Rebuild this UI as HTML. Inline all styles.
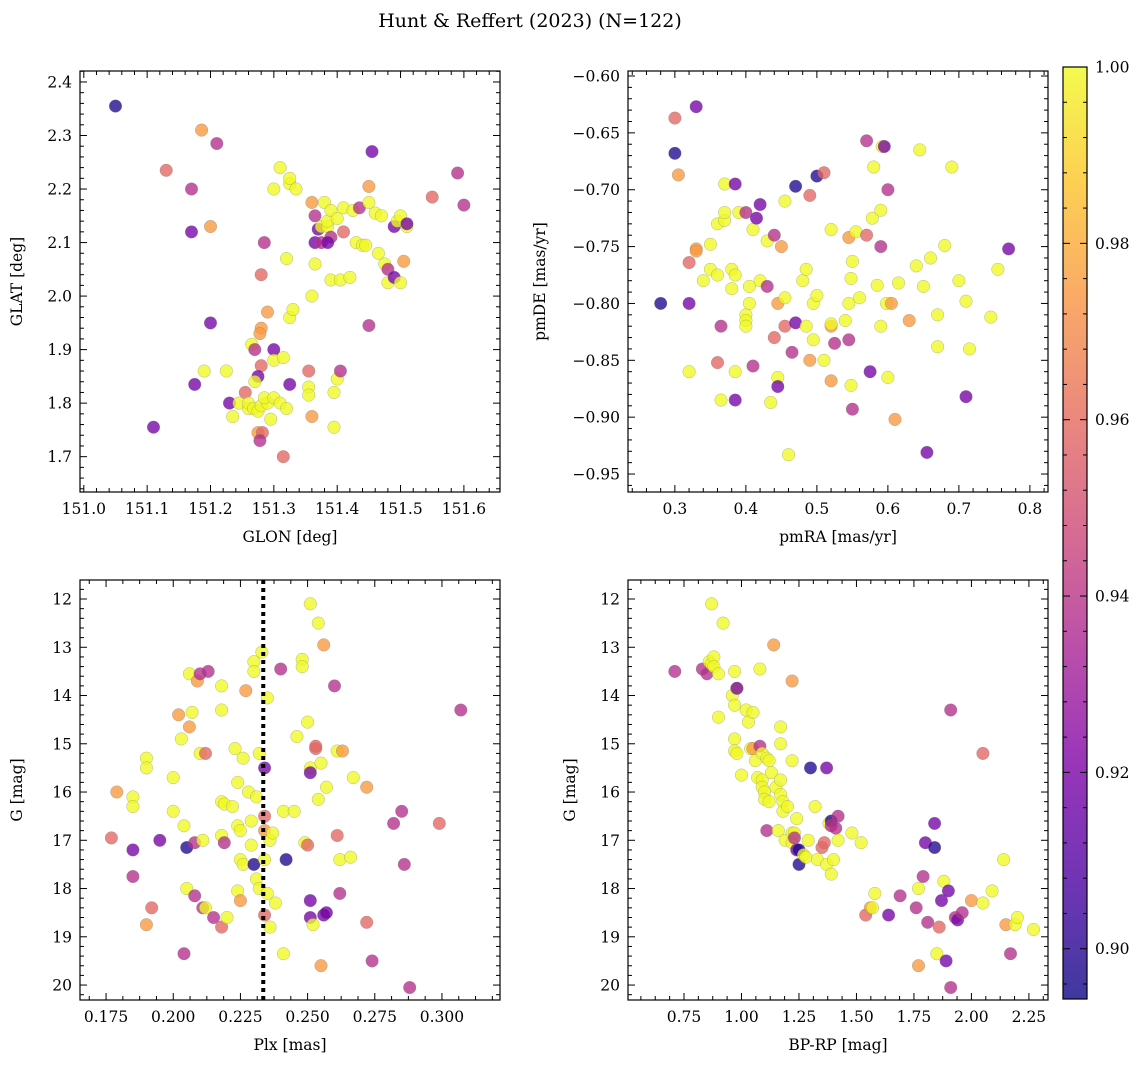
<!DOCTYPE html>
<html><head><meta charset="utf-8"><style>
html,body{margin:0;padding:0;background:#fff;}
svg{display:block;font-family:"DejaVu Serif","Liberation Serif",serif;}
</style></head><body>
<svg id="fig" width="1148" height="1067" viewBox="0 0 1148 1067">
<defs>
<linearGradient id="plasma" x1="0" y1="1" x2="0" y2="0">
<stop offset="0" stop-color="#0d0887"/><stop offset="0.125" stop-color="#4c02a1"/><stop offset="0.25" stop-color="#7e03a8"/><stop offset="0.375" stop-color="#a92395"/><stop offset="0.5" stop-color="#cc4778"/><stop offset="0.625" stop-color="#e56b5d"/><stop offset="0.75" stop-color="#f89441"/><stop offset="0.875" stop-color="#fdc328"/><stop offset="1" stop-color="#f0f921"/>
</linearGradient>
</defs>
<text x="530" y="27" text-anchor="middle" font-size="19">Hunt &amp; Reffert (2023) (N=122)</text>
</svg>
<script>
const Y=1.0,O=0.975,R=0.958,M=0.938,P=0.918,B=0.898;
const p1=[[151.05,2.355,B],[151.186,2.31,O],[151.13,2.235,R],[151.21,2.285,M],[151.17,2.2,M],[151.2,2.13,O],[151.17,2.12,P],[151.2,1.95,P],[151.175,1.835,P],[151.11,1.755,P],[151.19,1.86,Y],[151.225,1.86,Y],[151.23,1.8,P],[151.235,1.775,Y],[151.245,1.8,Y],[151.255,1.82,R],[151.26,1.79,Y],[151.265,1.91,Y],[151.27,1.9,M],[151.28,2.04,R],[151.285,2.1,M],[151.28,1.94,O],[151.278,1.93,O],[151.28,1.87,R],[151.275,1.85,P],[151.27,1.84,Y],[151.26,1.8,Y],[151.268,1.79,Y],[151.275,1.785,Y],[151.28,1.795,Y],[151.29,1.8,Y],[151.285,1.81,Y],[151.275,1.745,O],[151.282,1.745,R],[151.278,1.73,M],[151.29,1.97,O],[151.3,1.9,P],[151.3,1.88,Y],[151.315,1.885,Y],[151.3,1.81,Y],[151.31,1.8,Y],[151.295,1.77,Y],[151.315,1.7,R],[151.31,2.24,Y],[151.3,2.2,Y],[151.325,2.21,Y],[151.325,2.22,Y],[151.335,2.2,Y],[151.32,2.07,Y],[151.325,1.96,Y],[151.33,1.975,Y],[151.32,1.79,Y],[151.325,1.835,P],[151.355,1.83,Y],[151.355,1.815,Y],[151.355,1.86,R],[151.36,1.775,O],[151.36,2.175,O],[151.365,2.15,M],[151.365,2.06,Y],[151.365,2.1,P],[151.36,2.0,Y],[151.37,2.125,P],[151.375,2.1,M],[151.375,2.13,Y],[151.38,2.175,Y],[151.385,2.13,Y],[151.385,2.14,Y],[151.39,2.16,Y],[151.39,2.11,M],[151.385,2.1,P],[151.39,2.03,Y],[151.395,1.82,Y],[151.395,1.755,Y],[151.4,1.845,Y],[151.405,1.86,M],[151.405,2.03,Y],[151.4,2.145,Y],[151.41,2.12,R],[151.41,2.165,Y],[151.42,2.035,Y],[151.425,2.16,Y],[151.43,2.1,Y],[151.435,2.165,M],[151.44,2.095,Y],[151.445,2.095,Y],[151.45,2.175,Y],[151.45,2.205,O],[151.455,2.27,P],[151.45,1.945,M],[151.46,2.155,Y],[151.465,2.08,Y],[151.47,2.15,Y],[151.475,2.06,Y],[151.48,2.05,M],[151.48,2.025,Y],[151.49,2.13,P],[151.49,2.035,P],[151.495,2.14,Y],[151.5,2.025,Y],[151.5,2.15,Y],[151.505,2.065,O],[151.51,2.13,Y],[151.51,2.135,P],[151.55,2.185,R],[151.59,2.23,M],[151.6,2.17,M]];
const p2=[[0.33,-0.627,P],[0.3,-0.637,R],[0.3,-0.668,B],[0.305,-0.687,O],[0.28,-0.8,B],[0.32,-0.764,R],[0.32,-0.8,P],[0.32,-0.86,Y],[0.33,-0.752,O],[0.33,-0.754,O],[0.34,-0.78,Y],[0.35,-0.748,Y],[0.35,-0.77,Y],[0.36,-0.775,Y],[0.36,-0.73,Y],[0.36,-0.852,R],[0.365,-0.82,M],[0.365,-0.885,Y],[0.37,-0.695,Y],[0.37,-0.727,Y],[0.37,-0.72,Y],[0.38,-0.787,Y],[0.38,-0.77,Y],[0.385,-0.695,P],[0.385,-0.775,Y],[0.385,-0.86,Y],[0.385,-0.885,P],[0.39,-0.72,Y],[0.4,-0.72,M],[0.4,-0.81,Y],[0.4,-0.815,Y],[0.4,-0.82,Y],[0.405,-0.8,Y],[0.405,-0.785,Y],[0.41,-0.735,Y],[0.41,-0.855,M],[0.415,-0.725,P],[0.42,-0.713,P],[0.42,-0.78,Y],[0.43,-0.745,Y],[0.43,-0.785,M],[0.435,-0.887,Y],[0.44,-0.74,M],[0.44,-0.83,R],[0.445,-0.8,O],[0.445,-0.865,Y],[0.445,-0.873,P],[0.45,-0.75,O],[0.455,-0.71,Y],[0.455,-0.795,Y],[0.455,-0.82,R],[0.46,-0.933,Y],[0.465,-0.843,M],[0.47,-0.817,P],[0.47,-0.697,B],[0.48,-0.78,Y],[0.485,-0.77,Y],[0.485,-0.82,Y],[0.49,-0.705,R],[0.49,-0.85,O],[0.495,-0.8,Y],[0.495,-0.832,Y],[0.5,-0.688,B],[0.5,-0.793,Y],[0.51,-0.685,R],[0.51,-0.85,Y],[0.52,-0.735,Y],[0.52,-0.82,O],[0.52,-0.818,Y],[0.52,-0.868,O],[0.525,-0.835,M],[0.54,-0.815,Y],[0.545,-0.832,M],[0.545,-0.742,O],[0.545,-0.8,Y],[0.548,-0.872,Y],[0.55,-0.893,M],[0.55,-0.763,Y],[0.548,-0.778,Y],[0.555,-0.737,Y],[0.56,-0.795,Y],[0.57,-0.657,M],[0.57,-0.74,R],[0.575,-0.86,P],[0.578,-0.725,Y],[0.58,-0.68,Y],[0.585,-0.784,Y],[0.59,-0.82,Y],[0.59,-0.75,M],[0.59,-0.718,Y],[0.592,-0.662,Y],[0.595,-0.662,P],[0.598,-0.8,Y],[0.6,-0.7,M],[0.6,-0.865,Y],[0.605,-0.8,O],[0.61,-0.902,O],[0.615,-0.782,Y],[0.63,-0.815,O],[0.64,-0.767,Y],[0.645,-0.665,Y],[0.65,-0.785,Y],[0.655,-0.931,P],[0.66,-0.76,Y],[0.67,-0.81,Y],[0.67,-0.838,Y],[0.68,-0.749,Y],[0.69,-0.68,Y],[0.7,-0.78,Y],[0.71,-0.798,Y],[0.71,-0.882,P],[0.715,-0.84,Y],[0.745,-0.812,Y],[0.755,-0.77,Y],[0.77,-0.752,P]];
const p3=[[0.177,16.95,R],[0.179,16.0,O],[0.19,15.3,Y],[0.19,15.5,Y],[0.185,16.1,Y],[0.185,16.3,Y],[0.185,17.2,P],[0.185,17.75,M],[0.19,18.75,O],[0.192,18.4,R],[0.195,17.0,P],[0.2,15.7,Y],[0.2,16.4,Y],[0.202,14.4,O],[0.203,14.9,Y],[0.204,16.7,Y],[0.205,17.15,B],[0.204,19.35,M],[0.205,18.0,Y],[0.206,13.55,Y],[0.206,14.65,O],[0.207,14.35,Y],[0.208,18.15,M],[0.208,17.05,M],[0.209,13.7,O],[0.21,13.55,M],[0.21,15.2,Y],[0.211,17.0,Y],[0.211,18.4,M],[0.212,15.2,R],[0.212,18.4,Y],[0.213,13.5,M],[0.215,18.6,M],[0.218,13.8,Y],[0.218,14.3,Y],[0.218,16.2,Y],[0.219,16.25,Y],[0.218,16.9,Y],[0.219,17.05,M],[0.218,18.8,R],[0.22,18.6,Y],[0.222,16.3,Y],[0.223,15.1,Y],[0.224,15.8,Y],[0.224,16.7,Y],[0.225,16.8,Y],[0.224,18.05,Y],[0.225,18.25,O],[0.225,17.4,Y],[0.226,17.5,Y],[0.226,15.3,Y],[0.227,13.9,O],[0.228,16.0,Y],[0.229,16.6,Y],[0.229,17.1,Y],[0.23,13.3,Y],[0.23,13.5,Y],[0.23,17.5,B],[0.231,16.1,Y],[0.231,17.8,Y],[0.232,18.0,Y],[0.232,15.2,Y],[0.233,13.1,Y],[0.234,15.5,P],[0.234,16.5,R],[0.235,14.05,Y],[0.234,16.8,O],[0.236,17.0,Y],[0.234,17.4,Y],[0.235,18.1,Y],[0.234,18.55,R],[0.236,18.8,Y],[0.237,16.85,Y],[0.238,18.3,Y],[0.24,13.45,M],[0.241,16.4,Y],[0.241,19.35,Y],[0.242,17.4,B],[0.245,16.4,Y],[0.246,14.85,Y],[0.248,13.25,Y],[0.248,13.4,Y],[0.25,14.55,Y],[0.249,17.05,Y],[0.25,17.1,R],[0.251,12.1,Y],[0.251,15.5,Y],[0.251,15.6,P],[0.251,18.25,P],[0.251,18.6,P],[0.252,18.75,Y],[0.253,15.1,R],[0.253,15.05,R],[0.254,16.15,Y],[0.254,12.5,Y],[0.255,15.4,Y],[0.255,19.6,O],[0.256,18.55,P],[0.256,12.95,O],[0.257,15.9,Y],[0.257,18.5,P],[0.26,13.8,M],[0.261,16.9,R],[0.261,15.15,Y],[0.262,17.4,Y],[0.262,18.1,M],[0.263,15.15,O],[0.266,17.35,Y],[0.267,15.7,Y],[0.272,18.7,R],[0.272,15.9,O],[0.274,19.5,M],[0.282,16.65,M],[0.285,16.4,M],[0.286,17.5,M],[0.288,20.05,M],[0.299,16.65,R],[0.307,14.3,M]];
const p4=[[0.71,13.5,M],[0.83,13.45,M],[0.85,13.55,M],[0.86,13.3,Y],[0.87,13.35,Y],[0.88,13.2,Y],[0.87,12.1,Y],[0.88,13.4,Y],[0.9,13.55,Y],[0.92,12.5,Y],[0.9,14.45,Y],[0.97,13.5,Y],[0.96,14.0,Y],[0.98,13.85,Y],[0.98,13.85,P],[0.97,14.2,Y],[0.97,14.9,Y],[0.97,15.15,Y],[0.98,15.2,Y],[1.0,15.65,Y],[1.02,14.3,Y],[1.03,14.55,Y],[1.05,14.35,Y],[1.04,15.1,Y],[1.05,15.1,O],[1.06,15.35,Y],[1.07,15.7,Y],[1.08,13.45,Y],[1.08,15.05,M],[1.09,15.2,Y],[1.09,15.75,Y],[1.09,15.9,Y],[1.1,16.0,Y],[1.1,16.15,Y],[1.11,16.8,M],[1.11,15.3,Y],[1.12,15.35,Y],[1.13,15.6,Y],[1.12,16.2,Y],[1.14,12.95,O],[1.15,15.9,Y],[1.16,16.8,Y],[1.17,14.65,Y],[1.17,15.0,Y],[1.17,15.75,Y],[1.17,16.05,Y],[1.18,16.2,Y],[1.18,16.4,Y],[1.19,17.0,Y],[1.2,16.3,Y],[1.22,13.7,O],[1.22,15.35,Y],[1.22,16.85,Y],[1.22,17.05,Y],[1.23,16.85,Y],[1.23,16.95,M],[1.24,17.2,P],[1.24,16.55,Y],[1.25,17.5,B],[1.25,17.2,B],[1.27,17.3,Y],[1.28,17.35,Y],[1.29,17.0,Y],[1.3,15.5,B],[1.32,16.3,Y],[1.33,17.4,Y],[1.35,17.15,R],[1.36,17.05,R],[1.37,15.5,P],[1.37,17.5,Y],[1.38,16.65,Y],[1.39,16.6,B],[1.39,16.7,M],[1.39,17.7,Y],[1.4,17.4,Y],[1.41,16.75,M],[1.42,16.5,M],[1.42,17.0,Y],[1.48,16.85,Y],[1.52,17.05,Y],[1.54,18.55,R],[1.56,18.4,O],[1.57,18.4,Y],[1.58,18.1,Y],[1.64,18.55,P],[1.69,18.15,M],[1.76,18.4,M],[1.77,18.0,Y],[1.77,19.6,O],[1.79,17.75,M],[1.8,17.05,P],[1.81,18.7,M],[1.84,17.15,B],[1.84,16.65,P],[1.85,19.35,Y],[1.86,18.8,R],[1.87,18.25,P],[1.88,17.85,Y],[1.89,19.5,P],[1.9,18.05,P],[1.91,14.3,M],[1.91,20.05,M],[1.93,18.6,M],[1.94,18.65,P],[1.96,18.5,M],[2.0,18.25,O],[2.05,18.3,Y],[2.05,15.2,R],[2.09,18.05,Y],[2.14,17.4,Y],[2.15,18.75,O],[2.17,19.35,M],[2.19,18.75,Y],[2.2,18.6,Y],[2.27,18.85,Y]];
const plxLine=0.2335;
const cbTicks=[0.90,0.92,0.94,0.96,0.98,1.00];

const NS='http://www.w3.org/2000/svg';
const svg=document.getElementById('fig');
function mk(tag,attrs,parent){const e=document.createElementNS(NS,tag);for(const k in attrs)e.setAttribute(k,attrs[k]);(parent||svg).appendChild(e);return e;}
const stops=[[0,[13,8,135]],[0.125,[76,2,161]],[0.25,[126,3,168]],[0.375,[169,35,149]],[0.5,[204,71,120]],[0.625,[229,107,93]],[0.75,[248,148,65]],[0.875,[253,195,40]],[1,[240,249,33]]];
const CMIN=0.8943,CMAX=1.0;
function cmap(v){let t=(v-CMIN)/(CMAX-CMIN);t=Math.max(0,Math.min(1,t));for(let i=1;i<stops.length;i++){if(t<=stops[i][0]){const a=stops[i-1],b=stops[i];const f=(t-a[0])/(b[0]-a[0]);const c=a[1].map((x,j)=>Math.round(x+(b[1][j]-x)*f));return `rgb(${c})`;}}return 'rgb(240,249,33)';}
function fmt(v,d){const s=Math.abs(v).toFixed(d);return (v<-1e-9?'\u2212':'')+s;}

function panel(cfg){
  const {L,T,W,H,xd,yd,xt,yt,xdec,ydec,xminor,yminor,data,xlab,ylab,name}=cfg;
  const g=mk('g',{});
  
  
  const sx=v=>L+(v-xd[0])/(xd[1]-xd[0])*W;
  const sy=v=>T+(yd[1]-v)/(yd[1]-yd[0])*H;
  const clip='c'+name;
  const cp=mk('clipPath',{id:clip},g);mk('rect',{x:L,y:T,width:W,height:H},cp);
  const pts=mk('g',{'clip-path':`url(#${clip})`},g);
  
  
  data.forEach(d=>{
    const c=mk('circle',{cx:sx(d[0]).toFixed(1),cy:sy(d[1]).toFixed(1),r:6.3,fill:cmap(d[2]),'fill-opacity':0.78,stroke:'#777','stroke-opacity':0.5,'stroke-width':0.5},pts);
    
    
  });
  if(cfg.vline!==undefined){
    const ln=mk('line',{x1:sx(cfg.vline),x2:sx(cfg.vline),y1:T,y2:T+H,stroke:'#000','stroke-width':4,'stroke-dasharray':'4,4'},g);
    
    
  }
  const fr=mk('rect',{x:L,y:T,width:W,height:H,fill:'none',stroke:'#000','stroke-width':1.2},g);
  
  
  const tk=mk('g',{stroke:'#000','stroke-width':1},g);
  const step=xt[1]-xt[0], ystep=yt[1]-yt[0];
  for(let i=-1;i<xt.length;i++){
    const base=i<0?xt[0]-step:xt[i];
    for(let k=0;k<xminor;k++){
      const v=base+k*step/xminor; if(v<xd[0]-1e-9||v>xd[1]+1e-9)continue;
      const x=sx(v),len=k===0?7:4;
      mk('line',{x1:x,x2:x,y1:T+H,y2:T+H-len},tk);mk('line',{x1:x,x2:x,y1:T,y2:T+len},tk);
    }
  }
  for(let i=-1;i<yt.length;i++){
    const base=i<0?yt[0]-ystep:yt[i];
    for(let k=0;k<yminor;k++){
      const v=base+k*ystep/yminor; if(v<Math.min(...yd)-1e-9||v>Math.max(...yd)+1e-9)continue;
      const y=sy(v),len=k===0?7:4;
      mk('line',{x1:L,x2:L+len,y1:y,y2:y},tk);mk('line',{x1:L+W,x2:L+W-len,y1:y,y2:y},tk);
    }
  }
  xt.forEach(v=>{const t=mk('text',{x:sx(v),y:T+H+22,'text-anchor':'middle','font-size':15.5},g);t.textContent=fmt(v,xdec);});
  yt.forEach(v=>{const t=mk('text',{x:L-8,y:sy(v)+5.5,'text-anchor':'end','font-size':15.5},g);t.textContent=fmt(v,ydec);});
  const xl=mk('text',{x:L+W/2,y:T+H+50,'text-anchor':'middle','font-size':15.5},g);xl.textContent=xlab;
  
  
  const yx=cfg.ylx,yl=mk('text',{x:yx,y:T+H/2,'text-anchor':'middle','font-size':15.5,transform:`rotate(-90 ${yx} ${T+H/2})`},g);yl.textContent=ylab;
  
  
}
panel({name:'glon-glat-panel',L:80,T:71,W:420,H:421,xd:[150.994,151.657],yd:[1.634,2.4205],xt:[151.0,151.1,151.2,151.3,151.4,151.5,151.6],yt:[1.7,1.8,1.9,2.0,2.1,2.2,2.3,2.4],xdec:1,ydec:1,xminor:5,yminor:5,data:p1,xlab:'GLON [deg]',ylab:'GLAT [deg]',ylx:22});
panel({name:'pm-panel',L:628,T:71,W:420,H:421,xd:[0.234,0.8255],yd:[-0.9658,-0.5956],xt:[0.3,0.4,0.5,0.6,0.7,0.8],yt:[-0.95,-0.9,-0.85,-0.8,-0.75,-0.7,-0.65,-0.6],xdec:1,ydec:2,xminor:5,yminor:5,data:p2,xlab:'pmRA [mas/yr]',ylab:'pmDE [mas/yr]',ylx:545});
panel({name:'plx-g-panel',L:80,T:580,W:420,H:420,xd:[0.1653,0.3216],yd:[20.31,11.606],xt:[0.175,0.2,0.225,0.25,0.275,0.3],yt:[12,13,14,15,16,17,18,19,20],xdec:3,ydec:0,xminor:4,yminor:5,data:p3,xlab:'Plx [mas]',ylab:'G [mag]',ylx:22,vline:plxLine});
panel({name:'cmd-panel',L:628,T:580,W:420,H:420,xd:[0.5065,2.333],yd:[20.31,11.606],xt:[0.75,1.0,1.25,1.5,1.75,2.0,2.25],yt:[12,13,14,15,16,17,18,19,20],xdec:2,ydec:0,xminor:4,yminor:5,data:p4,xlab:'BP-RP [mag]',ylab:'G [mag]',ylx:575});
const cb=mk('g',{});


const CT=67,CB=999,CL=1063,CW=24;
const cy=v=>CB-(v-CMIN)/(CMAX-CMIN)*(CB-CT);
mk('rect',{x:CL,y:CT,width:CW,height:CB-CT,fill:'url(#plasma)','fill-opacity':0.8},cb);
mk('rect',{x:CL,y:CT,width:CW,height:CB-CT,fill:'none',stroke:'#000','stroke-width':1.2},cb);
for(let v=0.896;v<=1.0001;v+=0.004){const y=cy(v);const maj=Math.abs((v*100)%2)<0.01||Math.abs((v*100)%2-2)<0.01;const len=maj?7:4;mk('line',{x1:CL,x2:CL+len,y1:y,y2:y,stroke:'#000'},cb);mk('line',{x1:CL+CW,x2:CL+CW-len,y1:y,y2:y,stroke:'#000'},cb);}
cbTicks.forEach(v=>{const t=mk('text',{x:CL+CW+8,y:cy(v)+5.5,'font-size':15.5},cb);t.textContent=v.toFixed(2);});
</script>
</body></html>
